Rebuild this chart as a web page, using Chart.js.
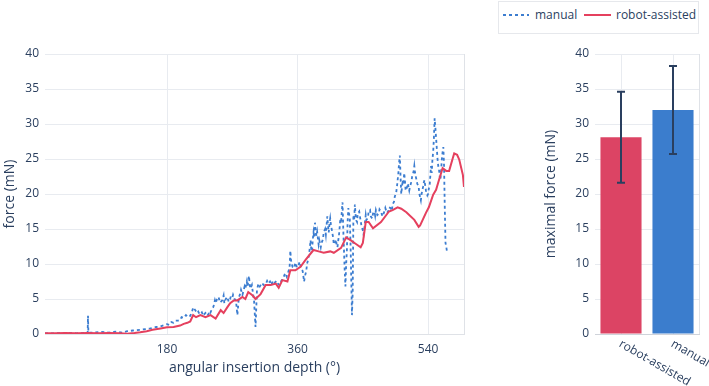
<!DOCTYPE html>
<html>
<head>
<meta charset="utf-8">
<script src="https://cdn.jsdelivr.net/npm/chart.js@4.4.1/dist/chart.umd.min.js"></script>
<style>
html,body{margin:0;padding:0;background:#fff;width:709px;height:386px;overflow:hidden;font-family:"Open Sans",sans-serif;}
#left{position:absolute;left:0;top:40px;}
#right{position:absolute;left:530px;top:40px;}
#legend{position:absolute;left:498px;top:1px;width:201px;height:33px;border:1px solid #e6e8ec;box-sizing:border-box;color:#2a3f5f;font-size:12px;}
#legend span{position:absolute;top:4px;line-height:17px;white-space:nowrap;}
#legend svg{position:absolute;top:11px;}
</style>
</head>
<body>
<div id="legend">
  <svg width="26" height="4" style="left:4px"><line x1="0" y1="2" x2="26" y2="2" stroke="#3c7dd0" stroke-width="2" stroke-dasharray="3,3"/></svg>
  <span style="left:36px">manual</span>
  <svg width="27" height="4" style="left:85px"><line x1="0" y1="2" x2="27" y2="2" stroke="#e5405e" stroke-width="2"/></svg>
  <span style="left:117px">robot-assisted</span>
</div>
<canvas id="left" width="475" height="346"></canvas>
<canvas id="right" width="179" height="346"></canvas>
<script>
// ---- data ----
const manualDeg = [11.7, 25, 40, 55, 68, 70.5, 71, 71.5, 80, 90, 100, 110, 118, 125, 133, 143, 150, 157, 165, 171,
  180, 183, 186, 189, 192, 195, 198, 200, 203, 206,
  208, 210, 212, 214, 216, 218, 219, 221, 223, 225,
  226, 228, 230, 232, 233, 235, 237, 239, 240, 242,
  244, 246, 247, 249, 251, 253, 254, 256, 258, 259,
  261, 263, 265, 267, 268, 270, 271, 273, 275, 277,
  279, 281, 282, 284, 285, 287, 288, 290, 291, 293,
  294, 295, 297, 298, 300, 302, 304, 306, 308, 311,
  313, 316, 318, 320, 322, 324, 326, 328, 331, 333,
  335, 337, 339, 341, 343, 345, 347, 349, 350, 351,
  353, 355, 357, 359, 361, 363, 365, 367, 369, 370,
  372, 373, 375, 376, 377, 378, 379, 380, 381, 382,
  383, 384, 385, 386, 387, 389, 390, 392, 393, 395,
  396, 398, 399, 401, 402, 403, 404, 405, 406, 407,
  409, 410, 412, 413, 414, 415, 416, 417, 418, 419,
  420, 421, 422, 423, 424, 425, 426, 427, 428, 429,
  430, 431, 432, 433, 434, 435, 436, 437, 438, 439,
  440, 441, 442, 443, 445, 446, 448, 450, 451, 452,
  454, 455, 457, 458, 460, 461, 463, 464, 466, 467,
  468, 470, 472, 473, 475, 477, 478, 480, 481, 483,
  485, 486, 488, 490, 491, 493, 494, 496, 497, 498,
  499, 500, 501, 502, 503, 504, 505, 506, 507, 508,
  509, 511, 512, 514, 515, 517, 518, 520, 521, 522,
  524, 525, 527, 528, 530, 531, 533, 534, 535, 536,
  537, 539, 540, 541, 542, 543, 544, 545, 546, 547,
  548, 549, 550, 551, 552, 553, 554, 555, 556, 557,
  558, 559, 560, 561, 562, 563, 564, 565, 566];
const manualForce = [0.10, 0.10, 0.15, 0.10, 0.15, 0.10, 2.60, 0.20, 0.20, 0.30, 0.20, 0.35, 0.20, 0.40, 0.50, 0.60, 0.70, 0.80, 1.00, 1.10,
  1.4, 1.3, 1.7, 1.6, 1.9, 1.9, 2.0, 2.4, 2.3, 2.7,
  2.5, 2.7, 2.6, 3.0, 3.8, 3.5, 3.4, 3.0, 3.2, 2.8,
  2.9, 3.1, 2.6, 2.9, 3.0, 2.6, 2.8, 3.3, 3.1, 3.6,
  3.9, 4.8, 4.4, 5.0, 5.3, 4.5, 4.6, 4.8, 5.5, 4.4,
  5.0, 5.3, 4.6, 5.0, 5.4, 5.2, 5.6, 5.0, 4.8, 2.7,
  5.2, 5.8, 6.3, 5.6, 6.0, 6.8, 6.5, 7.5, 6.8, 8.3,
  7.0, 6.5, 7.0, 6.2, 4.7, 1.0, 6.3, 7.2, 6.8, 7.3,
  7.0, 7.1, 7.6, 7.2, 7.5, 7.0, 7.6, 7.3, 7.6, 7.2,
  7.0, 7.5, 7.8, 8.2, 8.7, 8.2, 8.8, 9.5, 11.9, 10.5,
  9.6, 9.4, 10.2, 9.5, 9.8, 10.3, 9.4, 9.0, 7.5, 8.2,
  9.0, 10.0, 10.8, 11.5, 12.5, 13.4, 11.8, 12.0, 13.5, 14.5,
  13.8, 15.9, 14.8, 14.0, 14.6, 12.8, 13.4, 12.4, 13.0, 13.5,
  14.5, 15.0, 14.2, 16.8, 15.5, 14.5, 15.8, 16.5, 15.6, 15.0,
  13.8, 12.8, 13.2, 13.5, 12.6, 12.4, 13.3, 14.0, 15.2, 16.5,
  15.8, 17.5, 18.8, 15.0, 12.0, 9.0, 6.8, 10.0, 12.0, 16.0,
  18.0, 17.2, 16.5, 13.0, 8.0, 2.7, 6.0, 17.0, 16.2, 18.5,
  17.0, 16.2, 16.0, 17.2, 17.5, 16.8, 15.5, 14.8, 14.2, 15.0,
  17.0, 16.3, 16.6, 17.5, 17.7, 16.8, 16.5, 17.2, 17.5, 16.9,
  17.7, 17.0, 17.2, 17.8, 17.5, 16.8, 17.0, 17.6, 18.0, 17.3,
  17.5, 18.1, 18.0, 17.6, 18.5, 18.9, 19.6, 20.2, 21.0, 22.0,
  23.0, 24.5, 25.5, 22.5, 20.0, 21.0, 22.0, 21.3, 23.0, 22.0,
  20.5, 21.0, 21.5, 20.5, 21.0, 21.8, 22.5, 23.2, 24.0, 23.0,
  22.0, 21.5, 21.0, 20.0, 19.1, 20.0, 21.0, 21.6, 22.0, 21.2,
  20.5, 19.8, 20.0, 20.8, 21.0, 22.5, 24.0, 23.0, 25.0, 26.0,
  28.0, 30.8, 29.5, 28.0, 26.5, 25.0, 24.0, 23.5, 22.5, 22.0,
  23.5, 25.0, 26.0, 26.7, 24.0, 18.0, 13.0, 12.5, 11.8];
const robotDeg = [11.7, 25, 40, 55, 70, 85, 100, 115, 125, 135, 143, 152, 160, 171, 180, 189, 198, 203, 208, 212,
  216, 220, 226, 233, 240, 247, 254, 258, 263, 267, 272, 277, 284, 288, 292, 298, 302, 309, 316, 323,
  330, 334, 339, 346, 350, 357, 364, 371, 378, 382, 389, 396, 405, 410, 420, 427, 433, 440, 447, 450,
  454, 458, 464, 475, 486, 491, 498, 503, 510, 521, 527, 529, 537, 541, 547, 551, 555, 560, 565, 569,
  574, 576, 580, 583, 588, 589.5];
const robotForce = [0.10, 0.10, 0.15, 0.12, 0.15, 0.10, 0.15, 0.12, 0.05, 0.15, 0.25, 0.40, 0.60, 0.80, 0.95, 1.00, 1.20, 1.45, 1.60, 1.80,
  2.70, 2.40, 2.70, 2.40, 2.70, 2.20, 3.40, 3.00, 3.80, 4.40, 4.80, 4.80, 5.30, 5.00, 6.00, 5.50, 5.00, 5.70, 7.00, 7.00,
  7.20, 6.60, 7.70, 7.50, 9.10, 9.10, 9.60, 10.60, 11.50, 12.00, 11.80, 11.60, 11.80, 11.60, 12.30, 13.80, 13.40, 12.90, 12.40, 13.00,
  16.00, 16.00, 15.10, 16.00, 17.50, 17.70, 18.10, 17.90, 17.40, 16.30, 15.30, 15.50, 17.30, 18.10, 19.90, 20.60, 22.00, 23.70, 23.30, 23.30,
  25.10, 25.80, 25.60, 24.90, 22.70, 21.00];
const xTickValues = [180, 360, 540];
const yTickValues = [0, 5, 10, 15, 20, 25, 30, 35, 40];
const barCategories = ['robot-assisted', 'manual'];
const barMeans = [28.1, 32.0];
const barErrors = [6.5, 6.3];

// ---- style ----
const TEXT = '#2a3f5f';
const GRID = '#e8ebf0';
const AXIS = '#dfe2e7';
const BLUE = '#3c7dd0';
const RED = '#e5405e';
const FONT = '"Open Sans", sans-serif';

function draw() {
  const rightEdge = {
    id: 'rightEdge',
    beforeDatasetsDraw(chart) {
      const a = chart.chartArea, c = chart.ctx;
      c.save(); c.strokeStyle = AXIS; c.lineWidth = 1;
      c.beginPath(); c.moveTo(Math.round(a.right) + 0.5, a.top); c.lineTo(Math.round(a.right) + 0.5, a.bottom); c.stroke();
      c.restore();
    }
  };
  const yTicksFix = s => { s.ticks = yTickValues.map(v => ({ value: v })); };

  new Chart(document.getElementById('left'), {
    type: 'line',
    data: {
      datasets: [
        { label: 'manual', data: manualDeg.map((x, i) => ({ x: x, y: manualForce[i] })),
          borderColor: BLUE, borderWidth: 1.8, borderDash: [3, 3], pointRadius: 0, tension: 0, fill: false, order: 1 },
        { label: 'robot-assisted', data: robotDeg.map((x, i) => ({ x: x, y: robotForce[i] })),
          borderColor: RED, borderWidth: 2, pointRadius: 0, tension: 0, fill: false, order: 0 }
      ]
    },
    options: {
      responsive: false, animation: false, devicePixelRatio: 1,
      layout: { padding: { left: 0, right: 11, top: 14, bottom: 0 } },
      plugins: { legend: { display: false }, tooltip: { enabled: false } },
      scales: {
        x: {
          type: 'linear', min: manualDeg[0], max: robotDeg[robotDeg.length - 1],
          afterBuildTicks: s => { s.ticks = xTickValues.map(v => ({ value: v })); },
          afterFit: s => { s.height = 52; },
          grid: { color: GRID, drawTicks: false },
          border: { display: true, color: AXIS },
          ticks: { color: TEXT, font: { family: FONT, size: 12 }, padding: 8, maxRotation: 0, autoSkip: false },
          title: { display: true, text: 'angular insertion depth (°)', color: TEXT, font: { family: FONT, size: 14 }, padding: { top: 0, bottom: 10 } }
        },
        y: {
          min: 0, max: 40,
          afterBuildTicks: yTicksFix,
          afterFit: s => { s.width = 45; },
          grid: { color: GRID, drawTicks: false },
          border: { display: false },
          ticks: { color: TEXT, font: { family: FONT, size: 12 }, padding: 6 },
          title: { display: true, text: 'force (mN)', color: TEXT, font: { family: FONT, size: 14 }, padding: { top: 2, bottom: 0 } }
        }
      }
    },
    plugins: [rightEdge]
  });

  const errorBars = {
    id: 'errorBars',
    afterDatasetsDraw(chart) {
      const c = chart.ctx, xs = chart.scales.x, ys = chart.scales.y;
      c.save(); c.strokeStyle = TEXT; c.lineWidth = 2;
      barMeans.forEach((m, i) => {
        const x = xs.getPixelForValue(i);
        const t = ys.getPixelForValue(m + barErrors[i]), b = ys.getPixelForValue(m - barErrors[i]);
        c.beginPath();
        c.moveTo(x, t); c.lineTo(x, b);
        c.moveTo(x - 4, t); c.lineTo(x + 4, t);
        c.moveTo(x - 4, b); c.lineTo(x + 4, b);
        c.stroke();
      });
      c.restore();
    }
  };
  const catLabels = {
    id: 'catLabels',
    afterDraw(chart) {
      const c = chart.ctx, xs = chart.scales.x;
      c.save(); c.fillStyle = TEXT; c.font = '12px ' + FONT; c.textAlign = 'left'; c.textBaseline = 'middle';
      barCategories.forEach((lab, i) => {
        const x = xs.getPixelForValue(i);
        c.save(); c.translate(x - 1, xs.top + 9); c.rotate(Math.PI / 6); c.fillText(lab, 0, 0); c.restore();
      });
      c.restore();
    }
  };

  new Chart(document.getElementById('right'), {
    type: 'bar',
    data: {
      labels: barCategories,
      datasets: [{ data: barMeans, backgroundColor: ['#dc4464', '#3b7dcd'], barPercentage: 0.79, categoryPercentage: 1 }]
    },
    options: {
      responsive: false, animation: false, devicePixelRatio: 1,
      layout: { padding: { left: 0, right: 10, top: 14, bottom: 0 } },
      plugins: { legend: { display: false }, tooltip: { enabled: false } },
      scales: {
        x: {
          grid: { color: GRID, drawTicks: false, offset: false },
          border: { display: true, color: '#cfd3da' },
          ticks: { display: false },
          afterFit: s => { s.height = 52; }
        },
        y: {
          min: 0, max: 40,
          afterBuildTicks: yTicksFix,
          afterFit: s => { s.width = 65; },
          grid: { color: GRID, drawTicks: false },
          border: { display: false },
          ticks: { color: TEXT, font: { family: FONT, size: 12 }, padding: 6 },
          title: { display: true, text: 'maximal force (mN)', color: TEXT, font: { family: FONT, size: 14 }, padding: { top: 13, bottom: 0 } }
        }
      }
    },
    plugins: [errorBars, catLabels, rightEdge]
  });
}
Promise.all([document.fonts.load('12px "Open Sans"'), document.fonts.load('14px "Open Sans"')]).then(draw, draw);
</script>
</body>
</html>
